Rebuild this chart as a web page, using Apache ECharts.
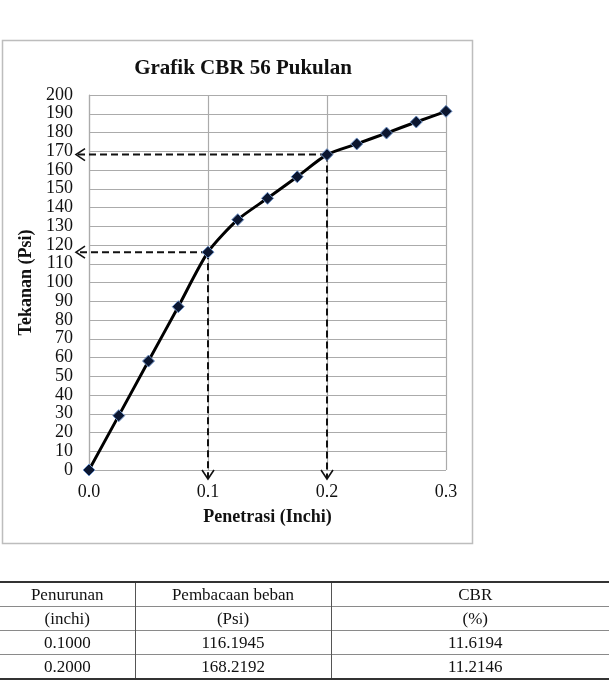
<!DOCTYPE html>
<html>
<head>
<meta charset="utf-8">
<script src="https://cdn.jsdelivr.net/npm/echarts@6/dist/echarts.min.js"></script>
<style>
    html, body { margin: 0; padding: 0; background: #fff; }
    #wrap { position: relative; width: 609px; height: 690px; overflow: hidden; }
    #chart { position: absolute; left: 0; top: 0; width: 609px; height: 690px; }
    #tbl {
        position: absolute; left: 0; top: 581px; width: 619px;
        border-collapse: collapse; table-layout: fixed;
        font-family: 'Liberation Serif', 'Times New Roman', serif; font-size: 17px; color: #111;
    }
    #tbl td { height: 23px; padding: 0; text-align: center; border-top: 1px solid #8a8a8a; line-height: 23px; }
    #tbl td + td { border-left: 1px solid #555; }
    #tbl tr:first-child td { border-top: 2px solid #333; }
    #tbl tr:last-child td { border-bottom: 2px solid #333; }
</style>
</head>
<body>
<div id="wrap">
    <div id="chart"></div>
    <table id="tbl"></table>
</div>
<script>
    var penetrasi = [0, 0.025, 0.05, 0.075, 0.1, 0.125, 0.15, 0.175, 0.2, 0.225, 0.25, 0.275, 0.3];
    var tekanan = [0, 29.0, 58.1, 87.1, 116.2, 133.5, 144.9, 156.4, 168.2, 173.9, 179.7, 185.6, 191.3];

    // tabel hasil
    var headerRow1 = ['Penurunan', 'Pembacaan beban', 'CBR'];
    var headerRow2 = ['(inchi)', '(Psi)', '(%)'];
    var tabelPenurunan = [0.1, 0.2];
    var tabelBeban = [116.1945, 168.2192];
    var tabelCbr = [11.6194, 11.2146];

    var colWidths = [135, 196, 288];

    var serif = "'Liberation Serif', 'Times New Roman', serif";

    var tbl = document.getElementById('tbl');
    var colgroup = '<colgroup>' + colWidths.map(function (w) {
        return '<col style="width:' + w + 'px">';
    }).join('') + '</colgroup>';
    var rows = [headerRow1, headerRow2];
    tabelPenurunan.forEach(function (p, i) {
        rows.push([p.toFixed(4), tabelBeban[i].toFixed(4), tabelCbr[i].toFixed(4)]);
    });
    tbl.innerHTML = colgroup + rows.map(function (r) {
        return '<tr>' + r.map(function (c) { return '<td>' + c + '</td>'; }).join('') + '</tr>';
    }).join('');

    var chart = echarts.init(document.getElementById('chart'));

    var lineData = penetrasi.map(function (x, i) {
        return [x, tekanan[i]];
    });
    var guideData = tabelPenurunan.map(function (x, i) {
        return [x, tabelBeban[i]];
    });

    function renderGuide(params, api) {
        var pt = api.coord([api.value(0), api.value(1)]);
        var leftX = api.coord([0, api.value(1)])[0] - 13;
        var bottomY = api.coord([api.value(0), 0])[1] + 9;
        var dashStyle = { stroke: '#111', lineWidth: 2, lineDash: [7, 4], fill: null };
        var headStyle = { stroke: '#111', lineWidth: 1.6, fill: null };
        return {
            type: 'group',
            children: [
                { type: 'line', shape: { x1: pt[0], y1: pt[1], x2: leftX, y2: pt[1] }, style: dashStyle },
                { type: 'line', shape: { x1: pt[0], y1: pt[1], x2: pt[0], y2: bottomY }, style: dashStyle },
                { type: 'polyline', shape: { points: [[leftX + 9, pt[1] - 6], [leftX, pt[1]], [leftX + 9, pt[1] + 6]] }, style: headStyle },
                { type: 'polyline', shape: { points: [[pt[0] - 6, bottomY - 9], [pt[0], bottomY], [pt[0] + 6, bottomY - 9]] }, style: headStyle }
            ]
        };
    }

    var option = {
        animation: false,
        backgroundColor: '#fff',
        title: {
            text: 'Grafik CBR 56 Pukulan',
            left: 238,
            top: 53,
            textAlign: 'center',
            textStyle: { fontFamily: serif, fontSize: 21, fontWeight: 'bold', color: '#111' }
        },
        graphic: [{
            type: 'rect',
            z: -1,
            shape: { x: 2.5, y: 40.5, width: 470, height: 503 },
            style: { stroke: '#bdbdbd', lineWidth: 1.5, fill: null }
        }],
        grid: { left: 89, right: 163, top: 95, bottom: 220 },
        xAxis: {
            type: 'value',
            min: 0,
            max: 0.3,
            interval: 0.1,
            name: 'Penetrasi (Inchi)',
            nameLocation: 'middle',
            nameGap: 38,
            nameTextStyle: { fontFamily: serif, fontSize: 18, fontWeight: 'bold', color: '#111' },
            axisLine: { show: false },
            axisTick: { show: false },
            axisLabel: {
                margin: 13,
                fontFamily: serif, fontSize: 18, color: '#111',
                formatter: function (v) { return v.toFixed(1); }
            },
            splitLine: { show: true, lineStyle: { color: '#ababab', width: 1.2 } }
        },
        yAxis: {
            type: 'value',
            min: 0,
            max: 200,
            interval: 10,
            name: 'Tekanan (Psi)',
            nameLocation: 'middle',
            nameGap: 41,
            nameTextStyle: { fontFamily: serif, fontSize: 18, fontWeight: 'bold', color: '#111' },
            axisLine: { show: true, lineStyle: { color: '#ababab', width: 1.2 } },
            axisTick: { show: false },
            axisLabel: { margin: 16, fontFamily: serif, fontSize: 18, color: '#111' },
            splitLine: { show: true, lineStyle: { color: '#ababab', width: 1.2 } }
        },
        series: [{
            type: 'custom',
            clip: false,
            z: 3,
            renderItem: renderGuide,
            data: guideData,
            silent: true
        }, {
            type: 'line',
            z: 4,
            smooth: 0.25,
            data: lineData,
            symbol: 'diamond',
            symbolSize: 12,
            lineStyle: { color: '#000', width: 3 },
            itemStyle: { color: '#0b1630', borderColor: '#6f93c8', borderWidth: 1 }
        }]
    };

    chart.setOption(option);
</script>
</body>
</html>
